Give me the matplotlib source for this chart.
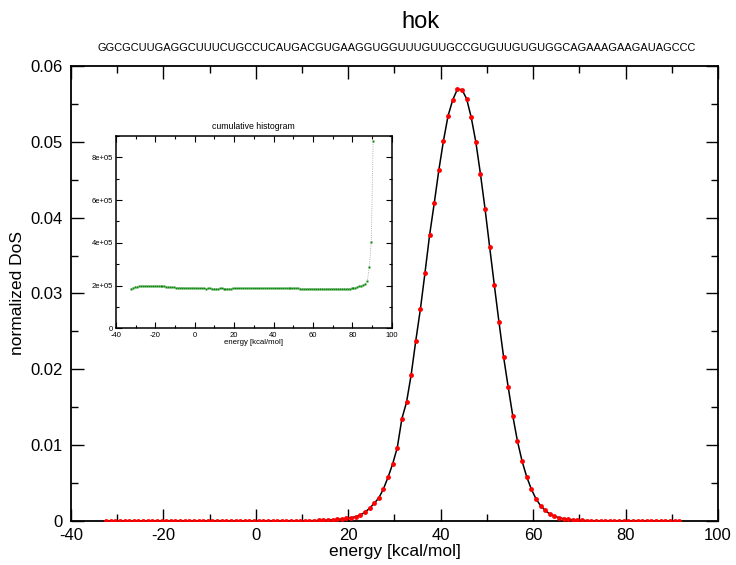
import numpy as np
import matplotlib
matplotlib.use("Agg")
import matplotlib.pyplot as plt
from matplotlib.ticker import MultipleLocator, FuncFormatter

plt.rcParams['font.family'] = ['Liberation Sans', 'DejaVu Sans']
plt.rcParams['axes.unicode_minus'] = False

title = "hok"
sequence = "GGCGCUUGAGGCUUUCUGCCUCAUGACGUGAAGGUGGUUUGUUGCCGUGUUGUGUGGCAGAAAGAAGAUAGCCC"

# energy grid (kcal/mol), 1 kcal/mol bins
energy = np.arange(125) - 32.4

# normalized density of states
dos = [0.0] * 37 + [
    0.00001, 0.00001, 0.00001, 0.00001, 0.00002, 0.00002, 0.00003, 0.00004,
    0.00005, 0.00007, 0.00009, 0.00012, 0.00016, 0.00020, 0.00026, 0.00034,
    0.00044, 0.00057, 0.00079, 0.00115, 0.00167, 0.00233, 0.00303, 0.00422,
    0.00576, 0.00752, 0.00967, 0.01349, 0.01565, 0.01925, 0.02374, 0.02792,
    0.03274, 0.03772, 0.04190, 0.04629, 0.05015, 0.05345, 0.05552, 0.05693,
    0.05688, 0.05569, 0.05324, 0.04998, 0.04576, 0.04114, 0.03609, 0.03112,
    0.02628, 0.02167, 0.01767, 0.01385, 0.01055, 0.00791, 0.00584, 0.00422,
    0.00294, 0.00202, 0.00141, 0.00092, 0.00062, 0.00044, 0.00030, 0.00022,
    0.00015, 0.00010, 0.00007, 0.00005, 0.00003, 0.00002, 0.00002, 0.00001,
    0.00001,
] + [0.0] * 15

# cumulative histogram (units of 1e5), one bin fewer
cumul = [
    1.85, 1.90, 1.94, 1.95, 1.96, 1.98, 1.99, 1.99, 1.99, 1.98,
    1.98, 1.98, 1.99, 1.99, 1.98, 1.98, 1.97, 1.96, 1.95, 1.94,
    1.93, 1.92, 1.92, 1.91, 1.91, 1.90, 1.90, 1.90, 1.89, 1.89,
    1.89, 1.89, 1.88, 1.88, 1.87, 1.87, 1.87, 1.87, 1.86, 1.87,
    1.87, 1.86, 1.86, 1.86, 1.86, 1.87, 1.87, 1.86, 1.86, 1.86,
    1.86, 1.86, 1.87, 1.87, 1.87, 1.87, 1.87, 1.87, 1.87, 1.87,
    1.87, 1.87, 1.87, 1.87, 1.87, 1.87, 1.87, 1.87, 1.87, 1.87,
    1.87, 1.87, 1.87, 1.87, 1.87, 1.87, 1.87, 1.87, 1.87, 1.87,
    1.87, 1.87, 1.87, 1.87, 1.87, 1.87, 1.86, 1.86, 1.86, 1.86,
    1.86, 1.86, 1.86, 1.86, 1.86, 1.86, 1.86, 1.86, 1.86, 1.86,
    1.86, 1.86, 1.86, 1.86, 1.86, 1.86, 1.86, 1.86, 1.86, 1.86,
    1.86, 1.86, 1.87, 1.88, 1.91, 1.94, 1.97, 2.00, 2.04, 2.09,
    2.20, 2.85, 4.05, 8.75,
]
cumul = np.array(cumul) * 1e5
energy_c = energy[:len(cumul)]

fig = plt.figure(figsize=(7.36, 5.65), dpi=100)
ax = fig.add_axes([0.0965, 0.0779, 0.879, 0.8053])

ax.plot(energy, dos, color="black", lw=1.1, zorder=2)
ax.plot(energy, dos, "o", color="red", ms=3.5, mec="none", zorder=3)

ax.set_xlim(-40, 100)
ax.set_ylim(0, 0.06)
ax.xaxis.set_major_locator(MultipleLocator(20))
ax.xaxis.set_minor_locator(MultipleLocator(10))
ax.yaxis.set_major_locator(MultipleLocator(0.01))
ax.yaxis.set_minor_locator(MultipleLocator(0.005))
ax.xaxis.set_major_formatter(FuncFormatter(lambda v, p: "%g" % v))
ax.yaxis.set_major_formatter(FuncFormatter(lambda v, p: "%g" % round(v, 4)))
ax.tick_params(which="both", direction="in", top=True, right=True, width=1, labelsize=12)
ax.tick_params(which="major", length=9)
ax.tick_params(which="minor", length=5)
ax.tick_params(axis="x", pad=5)
ax.tick_params(axis="y", pad=6)
for s in ax.spines.values():
    s.set_linewidth(1.3)
ax.set_xlabel("energy [kcal/mol]", fontsize=12.5, labelpad=1)
ax.set_ylabel("normalized DoS", fontsize=12.5, labelpad=4)

fig.text(0.571, 0.961, title, fontsize=17, ha="center", va="center")
fig.text(0.539, 0.915, sequence, fontsize=7.9, ha="center", va="center")

# inset
ins = fig.add_axes([0.1576, 0.4189, 0.3746, 0.3404])
ins.plot(energy_c, cumul, color="#999999", lw=0.6, ls=":", zorder=2)
ins.plot(energy_c, cumul, "s", color="#0d8a0d", ms=1.9, mec="none", zorder=3)
ins.set_xlim(-40, 100)
ins.set_ylim(0, 9e5)
ins.xaxis.set_major_locator(MultipleLocator(20))
ins.xaxis.set_minor_locator(MultipleLocator(10))
ins.yaxis.set_major_locator(MultipleLocator(2e5))
ins.yaxis.set_minor_locator(MultipleLocator(1e5))
ins.xaxis.set_major_formatter(FuncFormatter(lambda v, p: "%g" % v))
ins.yaxis.set_major_formatter(FuncFormatter(lambda v, p: "0" if v == 0 else "%.0e" % v))
ins.tick_params(which="both", direction="in", top=True, right=True, width=0.8, labelsize=5.5)
ins.tick_params(axis="x", pad=3)
ins.tick_params(axis="y", pad=2)
ins.tick_params(which="major", length=4)
ins.tick_params(which="minor", length=2)
for s in ins.spines.values():
    s.set_linewidth(1.1)
ins.set_xlabel("energy [kcal/mol]", fontsize=5.6, labelpad=0)
ins.set_title("cumulative histogram", fontsize=6.3, pad=5)

fig.savefig("out.png", dpi=100)
